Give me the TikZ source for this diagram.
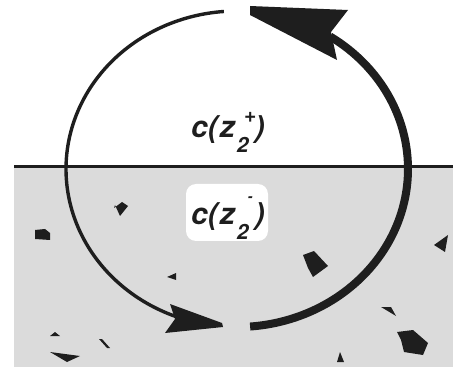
\documentclass[tikz,border=0pt]{standalone}
\usepackage{fontspec}
\newfontfamily\labfont{TeX Gyre Heros}
\definecolor{ink}{HTML}{1E1E1E}
\definecolor{ground}{HTML}{DBDBDB}
\tikzset{
  thinarc/.style={draw=ink, line width=3.4pt},
  thickarc/.style={draw=ink, line width=8pt},
  headfill/.style={fill=ink},
  debris/.style={fill=ink},
  lab/.style={font=\labfont\bfseries\itshape\fontsize{30}{32}\selectfont, text=ink, inner sep=0pt},
  labbox/.style={fill=white, rounded corners=10pt}
}
\newcommand{\subfnt}{\fontsize{21}{21}\selectfont}
\newcommand{\minfnt}{\fontsize{14}{14}\selectfont}
\begin{document}
\begin{tikzpicture}[x=1pt,y=-1pt]
\useasboundingbox (0,0) rectangle (453,377);
\fill[white] (0,0) rectangle (453,377);
% ground
\fill[ground] (14,167) rectangle (453,367);
\draw[ink, line width=3pt] (14,167) -- (453,167);
% debris
\fill[debris] (114,208) -- (122,202) -- (128,206) -- (120,216) -- (115,205) -- cycle;
\fill[debris] (35,230) -- (45,229) -- (50,233) -- (50,240) -- (35,239) -- cycle;
\fill[debris] (167,277) -- (176,273) -- (176,280) -- cycle;
\fill[debris] (50,336) -- (55,332) -- (60,336) -- cycle;
\fill[debris] (99,339) -- (102,339) -- (110,348) -- (107,348) -- cycle;
\fill[debris] (50,352) -- (80,356) -- (67,362) -- cycle;
\fill[debris] (303,255) -- (314,251) -- (328,266) -- (313,277) -- (308,268) -- cycle;
\fill[debris] (434,245) -- (448,235) -- (445,252) -- cycle;
\fill[debris] (381,307) -- (391,307) -- (396,316) -- cycle;
\fill[debris] (397,332) -- (413,330) -- (428,343) -- (423,355) -- (404,352) -- (401,340) -- cycle;
\fill[debris] (340,352) -- (337,362) -- (344,362) -- cycle;
% label box
\fill[labbox] (186,184) rectangle (268,241);
% thin arc with arrowhead
\draw[thinarc] plot[domain=265.6:110, samples=120] ({237+171*cos(\x)},{169+158*sin(\x)});
\fill[headfill] (170,304) -- (222,323) -- (223,327) -- (165,333) -- (175,319) -- cycle;
% thick arc with arrowhead
\draw[thickarc] plot[domain=85.6:-57, samples=140] ({237+171*cos(\x)},{169+158*sin(\x)});
\fill[headfill] (250,6) -- (348,10) -- (331,32) -- (337,60) -- (250,15) -- cycle;
% labels
\node[lab, anchor=base west] (lplus) at (191,138)
  {c(\kern2pt z\kern2pt\rlap{\kern7pt\raisebox{15pt}{\subfnt +}}\raisebox{-15pt}{\subfnt 2}\kern6pt)};
\node[lab, anchor=base west] (lminus) at (191,225)
  {c(\kern2pt z\kern2pt\rlap{\kern11pt\raisebox{23pt}{\minfnt -}}\raisebox{-15pt}{\subfnt 2}\kern6pt)};
\end{tikzpicture}
\end{document}
